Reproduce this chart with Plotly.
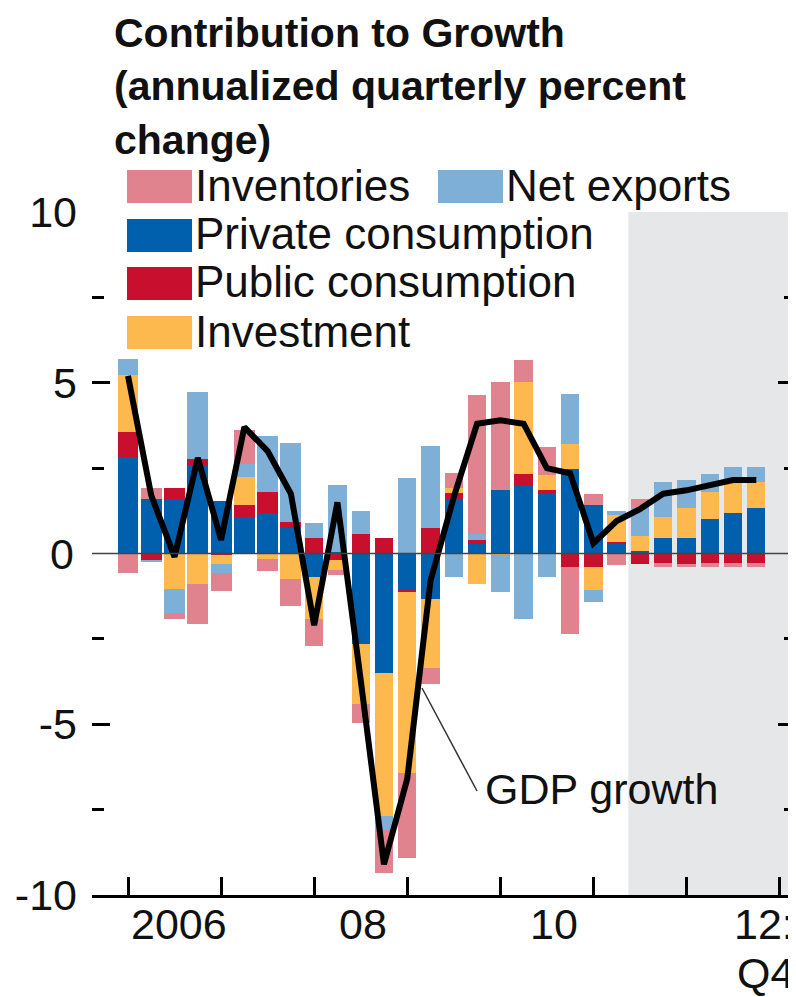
import plotly.graph_objects as go

# --- data, 2006Q1 .. 2012Q4 ---
quarters = [f"{y}Q{q}" for y in range(2006, 2013) for q in range(1, 5)]

private_consumption = [2.83, 1.61, 1.61, 2.58, 1.54, 1.07, 1.19, 0.76,
                       -0.70, 0.03, -2.65, -3.51, -1.09, -1.32, 1.61, 0.27,
                       1.85, 1.98, 1.80, 2.46, 1.43, 0.27, 0.08, 0.44,
                       0.44, 1.00, 1.19, 1.32]
public_consumption = [0.73, -0.19, 0.31, 0.19, -0.03, 0.36, 0.61, 0.17,
                      0.45, -0.18, 0.58, 0.44, -0.05, 0.75, 0.17, 0.12,
                      0.00, 0.36, 0.05, -0.39, -0.39, 0.07, -0.31, -0.29,
                      -0.31, -0.27, -0.27, -0.27]
investment = [1.66, 0.00, -1.03, -0.90, -0.27, 0.81, -0.15, -0.76,
              -1.23, -0.31, -1.76, -4.18, -5.29, -2.02, 0.13, -0.88,
              -0.05, 2.68, 0.44, 0.74, -0.68, 0.78, 0.43, 0.63,
              0.88, 0.80, 0.91, 0.78]
net_exports = [0.49, -0.06, -0.71, 1.95, -0.26, 0.39, 1.63, 2.31,
               0.43, 1.97, 0.66, -0.41, 2.22, 2.39, -0.70, 0.19,
               -1.07, -1.93, -0.70, 1.46, -0.34, 0.13, 0.86, 1.02,
               0.83, 0.54, 0.44, 0.44]
inventories = [-0.57, 0.31, -0.19, -1.15, -0.54, 0.99, -0.37, -0.78,
               -0.78, -0.15, -0.55, -1.27, -2.49, -0.47, 0.44, 4.07,
               3.17, 0.66, 0.83, -1.97, 0.30, -0.34, 0.24, -0.10,
               -0.08, -0.12, -0.12, -0.12]
gdp_growth = [5.2, 1.7, -0.1, 2.8, 0.4, 3.7, 3.0, 1.75,
              -2.1, 1.5, -3.7, -9.1, -6.6, -0.8, 1.65, 3.8,
              3.9, 3.8, 2.5, 2.35, 0.3, 0.95, 1.3, 1.75,
              1.85, 2.0, 2.15, 2.15]

forecast_start = 21.5  # between 2011Q2 and 2011Q3
year_ticks = [0, 4, 8, 12, 16, 20, 24, 28]
year_labels = [("2006", 2.2), ("08", 10.1), ("10", 18.3)]
y_ticks = [-10, -5, 5, 10]  # 0 is labelled separately (no tick, only the zero line)

# --- styling ---
FONT = "Liberation Sans, Arial, sans-serif"
TXT = "#111111"
C_PRIV = "#0060AD"
C_PUB = "#C8102E"
C_INV = "#FDB94D"
C_NET = "#7DAFD7"
C_STOCK = "#E0838F"
C_SHADE = "#E6E7E9"

# the page body has an 8px margin, so the figure starts at (8, 8)
OFF = 8
W, H = 796 - OFF, 997 - OFF
# plot area in page pixels
L, R, T, B = 92, 796, 212, 895


def px_x(px):
    return (px - L) / (R - L)


def px_y(py):
    return (B - py) / (B - T)


x = list(range(len(quarters)))
widths = [0.9] * 8 + [0.79] * (len(quarters) - 8)

fig = go.Figure()

series = [
    ("Private consumption", private_consumption, C_PRIV),
    ("Public consumption", public_consumption, C_PUB),
    ("Investment", investment, C_INV),
    ("Net exports", net_exports, C_NET),
    ("Inventories", inventories, C_STOCK),
]
for name, vals, col in series:
    fig.add_trace(
        go.Bar(
            x=x,
            y=vals,
            width=widths,
            name=name,
            marker=dict(color=col, line=dict(width=0)),
            hovertext=quarters,
            showlegend=False,
        )
    )

fig.add_trace(
    go.Scatter(
        x=x,
        y=gdp_growth,
        mode="lines",
        line=dict(color="black", width=6),
        name="GDP growth",
        showlegend=False,
    )
)

# forecast shading
fig.add_shape(type="rect", xref="x", yref="y", x0=forecast_start, x1=30,
              y0=-10, y1=10, fillcolor=C_SHADE, line_width=0, layer="below")
# zero line drawn over the bars
fig.add_shape(type="line", xref="paper", yref="y", x0=0, x1=1, y0=0, y1=0,
              line=dict(color="#444444", width=1.5), layer="above")
fig.add_annotation(text="0", xref="paper", yref="y", x=px_x(76), y=0,
                   xanchor="right", yanchor="middle", showarrow=False,
                   font=dict(family=FONT, size=43, color=TXT))

# --- manual legend ---
legend_items = [
    ("Inventories", C_STOCK, 127, 170),
    ("Net exports", C_NET, 438, 170),
    ("Private consumption", C_PRIV, 127, 219),
    ("Public consumption", C_PUB, 127, 267),
    ("Investment", C_INV, 127, 316),
]
for label, col, lx, ly in legend_items:
    fig.add_shape(type="rect", xref="paper", yref="paper",
                  x0=px_x(lx), x1=px_x(lx + 65), y0=px_y(ly), y1=px_y(ly + 33),
                  fillcolor=col, line_width=0)
    fig.add_annotation(text=label, xref="paper", yref="paper",
                       x=px_x(lx + 66), y=px_y(ly + 15), xanchor="left",
                       yanchor="middle", showarrow=False,
                       font=dict(family=FONT, size=44, color=TXT))

# title
fig.add_annotation(
    text="<b>Contribution to Growth<br>(annualized quarterly percent<br>change)</b>",
    xref="paper", yref="paper", x=px_x(113), y=px_y(9),
    xanchor="left", yanchor="top", align="left", showarrow=False,
    borderpad=0,
    font=dict(family=FONT, size=41, color=TXT),
)

# x labels
for txt, pos in year_labels:
    fig.add_annotation(text=txt, xref="x", yref="paper", x=pos, y=px_y(924),
                       xanchor="center", yanchor="middle", showarrow=False,
                       font=dict(family=FONT, size=43, color=TXT))
fig.add_annotation(text="12:", xref="paper", yref="paper", x=1, y=px_y(924),
                   xanchor="right", yanchor="middle", showarrow=False,
                   font=dict(family=FONT, size=43, color=TXT))
fig.add_annotation(text="Q4", xref="paper", yref="paper", x=1, y=px_y(973),
                   xanchor="right", yanchor="middle", showarrow=False,
                   font=dict(family=FONT, size=43, color=TXT))

# GDP growth label with leader line
fig.add_shape(type="line", xref="paper", yref="paper",
              x0=px_x(422), y0=px_y(688), x1=px_x(477), y1=px_y(791),
              line=dict(color="#333333", width=1.5))
fig.add_annotation(text="GDP growth", xref="paper", yref="paper",
                   x=px_x(483), y=px_y(789), xanchor="left", yanchor="middle",
                   showarrow=False,
                   font=dict(family=FONT, size=43, color=TXT))

fig.update_layout(
    width=W,
    height=H,
    margin=dict(l=L - OFF, r=0, t=T - OFF, b=H - (B - OFF), pad=0),
    barmode="relative",
    bargap=0,
    plot_bgcolor="white",
    paper_bgcolor="white",
    font=dict(family=FONT, size=43, color=TXT),
    xaxis=dict(
        range=[-36 / 23.27, 668 / 23.27],
        tickmode="array",
        tickvals=year_ticks,
        ticktext=[""] * len(year_ticks),
        ticks="inside",
        ticklen=18,
        tickwidth=3,
        tickcolor="black",
        showline=True,
        linewidth=3,
        linecolor="black",
        showgrid=False,
        zeroline=False,
    ),
    yaxis=dict(
        range=[-10, 10],
        tickmode="array",
        tickvals=y_ticks,
        ticktext=[str(v) for v in y_ticks],
        ticks="inside",
        ticklen=18,
        tickwidth=3,
        tickcolor="black",
        mirror="ticks",
        ticklabelstandoff=14,
        minor=dict(tickvals=[-7.5, -2.5, 2.5, 7.5], ticks="inside",
                   ticklen=12, tickwidth=3, tickcolor="black"),
        showline=False,
        showgrid=False,
        zeroline=False,
    ),
)

fig.write_html("out.html")
